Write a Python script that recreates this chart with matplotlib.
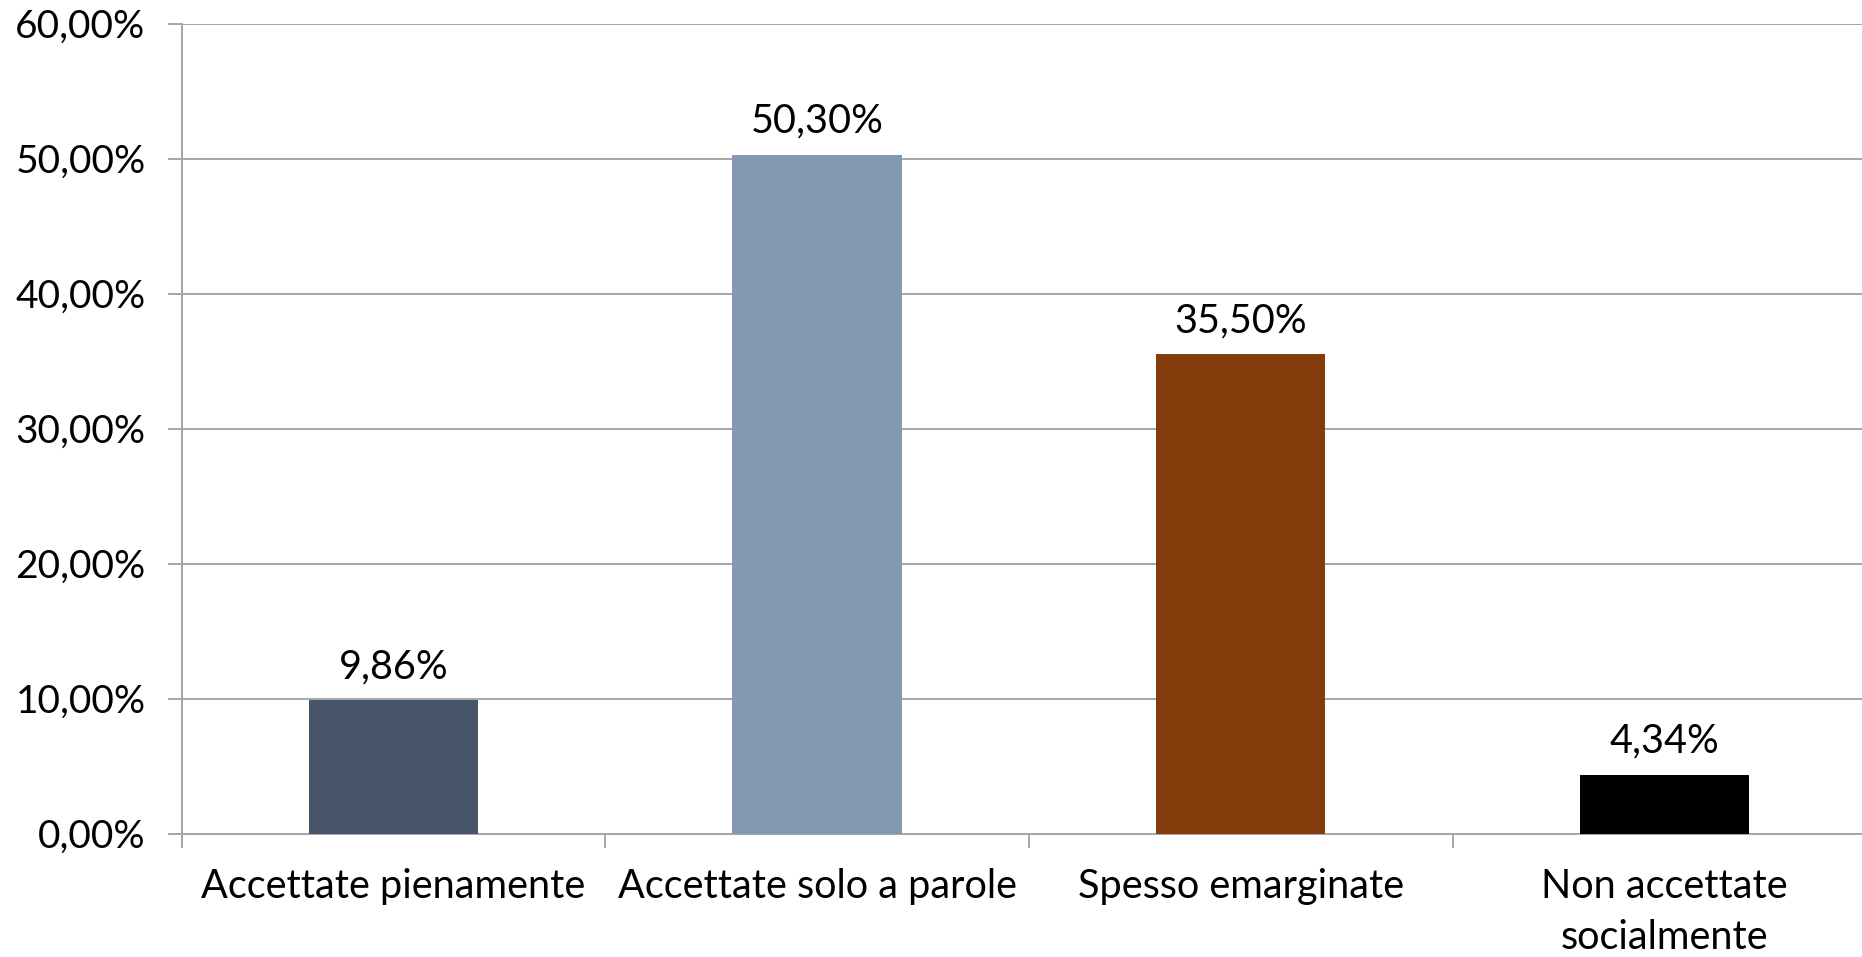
import matplotlib
matplotlib.use('Agg')
import matplotlib.pyplot as plt
from matplotlib.ticker import FuncFormatter, MultipleLocator

categorie = ['Accettate pienamente', 'Accettate solo a parole',
             'Spesso emarginate', 'Non accettate\nsocialmente']
valori = [9.86, 50.30, 35.50, 4.34]
colori = ['#465569', '#8499B1', '#843C0C', '#000000']

plt.rcParams['font.family'] = ['Lato', 'DejaVu Sans']

def pct(v, pos=None):
    return '{:.2f}%'.format(v).replace('.', ',')

fig = plt.figure(figsize=(18.62, 9.57), dpi=100)
ax = fig.add_axes([0.0976, 0.129, 0.91, 0.8462])

x = list(range(len(categorie)))
ax.bar(x, valori, width=0.4, color=colori, zorder=3)

for xi, v in zip(x, valori):
    ax.annotate(pct(v), (xi, v), xytext=(0, 11), textcoords='offset points',
                ha='center', va='bottom', fontsize=28.5, color='black')

ax.set_xlim(-0.5, len(categorie) - 0.5)
ax.set_ylim(0, 60)
ax.yaxis.set_major_locator(MultipleLocator(10))
ax.yaxis.set_major_formatter(FuncFormatter(pct))
ax.grid(axis='y', color='#A6A6A6', linewidth=1.4, zorder=0)

ax.set_xticks(x)
ax.set_xticklabels(categorie, fontsize=28.5, linespacing=1.45)
ax.set_xticks([i + 0.5 for i in range(-1, len(categorie))], minor=True)
ax.tick_params(axis='x', which='major', length=0, pad=25)
ax.tick_params(axis='x', which='minor', length=10, color='#A6A6A6', width=1.4)
ax.tick_params(axis='y', length=10, color='#A6A6A6', width=1.4, labelsize=28, pad=16)

for s in ['top', 'right']:
    ax.spines[s].set_visible(False)
for s in ['left', 'bottom']:
    ax.spines[s].set_color('#A6A6A6')
    ax.spines[s].set_linewidth(1.4)

fig.savefig('out.png', dpi=100)
